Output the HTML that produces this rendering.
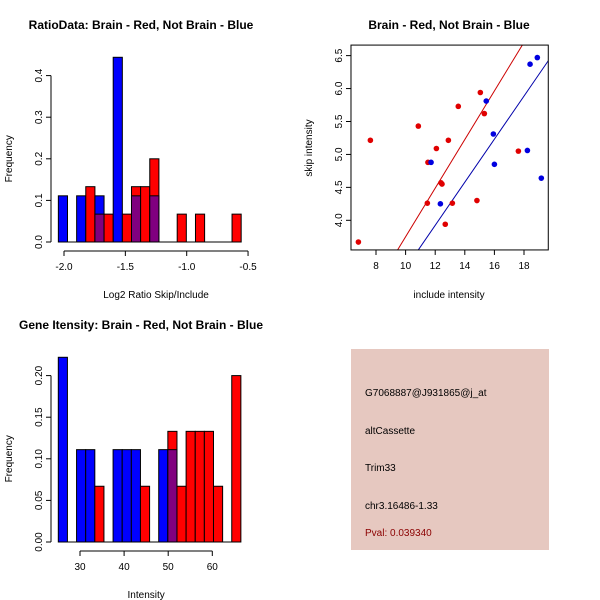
<!DOCTYPE html>
<html><head><meta charset="utf-8"><style>
body{margin:0;background:#fff}
svg{display:block;font-family:"Liberation Sans",Arial,sans-serif}
</style></head><body>
<svg id="s" width="600" height="600">
<rect width="600" height="600" fill="#fff"/>
<text x="141" y="29" font-size="12" font-weight="bold" text-anchor="middle">RatioData: Brain - Red, Not Brain - Blue</text>
<text x="449" y="29" font-size="12" font-weight="bold" text-anchor="middle">Brain - Red, Not Brain - Blue</text>
<text x="141" y="329" font-size="12" font-weight="bold" text-anchor="middle">Gene Itensity: Brain - Red, Not Brain - Blue</text>
<g>
<rect x="351" y="349" width="198" height="201" fill="#e6c8c0"/>
<text x="365" y="396" font-size="10">G7068887@J931865@j_at</text>
<text x="365" y="434" font-size="10">altCassette</text>
<text x="365" y="471" font-size="10">Trim33</text>
<text x="365" y="509" font-size="10">chr3.16486-1.33</text>
<text x="365" y="536" font-size="10" fill="#8b0000">Pval: 0.039340</text>
</g>
</svg>
<script>
// Ratio histogram data
const ratioBlue=[0.111,0,0.111,0,0.111,0,0.444,0,0.111,0,0.111,0,0,0,0,0,0,0,0,0];
const ratioRed=[0,0,0,0.133,0.067,0.067,0,0.067,0.133,0.133,0.2,0,0,0.067,0,0.067,0,0,0,0.067];
const ratioStart=-2.046, ratioBin=0.0745;
const ratioXTicks=[-2.0,-1.5,-1.0,-0.5];
const ratioYTicks=[0.0,0.1,0.2,0.3,0.4];
// Intensity histogram data
const intBlue=[0.222,0,0.111,0.111,0,0,0.111,0.111,0.111,0,0,0.111,0.111,0,0,0,0,0,0,0];
const intRed=[0,0,0,0,0.067,0,0,0,0,0.067,0,0,0.133,0.067,0.133,0.133,0.133,0.067,0,0.2];
const intStart=25.08, intBin=2.07;
const intXTicks=[30,40,50,60];
const intYTicks=[0.00,0.05,0.10,0.15,0.20];
// Scatter data
const redX=[6.81,7.62,10.86,11.51,12.08,12.89,13.56,15.05,15.32,11.47,12.39,12.46,13.16,12.68,14.82,17.62];
const redY=[3.67,5.215,5.43,4.88,5.09,5.215,5.73,5.94,5.62,4.26,4.57,4.55,4.26,3.94,4.30,5.05];
const blueX=[11.72,12.35,15.45,15.93,16.0,18.23,18.41,18.9,19.17];
const blueY=[4.88,4.25,5.81,5.31,4.85,5.06,6.37,6.47,4.64];
const redLine=[0.06,0.369];
const blueLine=[0.0,0.327];
const scXTicks=[8,10,12,14,16,18];
const scYTicks=["4.0","4.5","5.0","5.5","6.0","6.5"];

const S=document.getElementById('s');const NS='http://www.w3.org/2000/svg';
function mk(t,a,txt){const e=document.createElementNS(NS,t);for(const k in a)e.setAttribute(k,a[k]);if(txt!==undefined)e.textContent=txt;S.appendChild(e);return e;}

function hist(blue,red,start,bin,xt,yt,xs,ys,yAxisX,xAxisY,xlab,prefix,fmt){
  for(let i=0;i<blue.length;i++){
    const x0=xs(start+i*bin),x1=xs(start+(i+1)*bin);
    const b=blue[i],r=red[i];const mx=Math.max(b,r),mn=Math.min(b,r);
    if(mx>0){const e=mk('rect',{x:x0,y:ys(mx),width:x1-x0,height:ys(0)-ys(mx),fill:b>=r?'#0000ff':'#ff0000',stroke:'#000','stroke-width':1});
    
    }
    if(mn>0){const e=mk('rect',{x:x0,y:ys(mn),width:x1-x0,height:ys(0)-ys(mn),fill:'#80007f',stroke:'#000','stroke-width':1});
    
    }
  }
  mk('line',{x1:xs(start),x2:xs(start+blue.length*bin),y1:ys(0),y2:ys(0),stroke:'#000'});
  // y axis
  mk('line',{x1:yAxisX,x2:yAxisX,y1:ys(yt[0]),y2:ys(yt[yt.length-1]),stroke:'#000'});
  yt.forEach(v=>{mk('line',{x1:yAxisX-5,x2:yAxisX,y1:ys(v),y2:ys(v),stroke:'#000'});
    const t=mk('text',{x:yAxisX-9,y:ys(v),'font-size':10,'text-anchor':'middle',transform:`rotate(-90 ${yAxisX-9} ${ys(v)})`},fmt(v));
    });
  mk('line',{x1:xs(xt[0]),x2:xs(xt[xt.length-1]),y1:xAxisY,y2:xAxisY,stroke:'#000'});
  xt.forEach(v=>{mk('line',{x1:xs(v),x2:xs(v),y1:xAxisY,y2:xAxisY+5,stroke:'#000'});
    const t=mk('text',{x:xs(v),y:xAxisY+19,'font-size':10,'text-anchor':'middle'},v.toFixed(prefix==='ratio'?1:0));
    });
  const xl=mk('text',{x:(xs(xt[0])+xs(xt[xt.length-1]))/2,y:xAxisY+47,'font-size':10,'text-anchor':'middle'},xlab);
  
  const cy=(ys(yt[0])+ys(yt[yt.length-1]))/2;
  const yl=mk('text',{x:12,y:cy,'font-size':10,'text-anchor':'middle',transform:`rotate(-90 12 ${cy})`},'Frequency');
  
}
hist(ratioBlue,ratioRed,ratioStart,ratioBin,ratioXTicks,ratioYTicks,
  v=>64+(v+2)*122.7, v=>242-v*416, 51,251,'Log2 Ratio Skip/Include','ratio',v=>v.toFixed(1));
hist(intBlue,intRed,intStart,intBin,intXTicks,intYTicks,
  v=>80+(v-30)*4.41, v=>542-v*832, 51,551,'Intensity','intensity',v=>v.toFixed(2));

// scatter
const sx=v=>376+(v-8)*14.8, sy=v=>220.3-(v-4)*65.87;
const X0=6.31,X1=19.64,Y0=3.55,Y1=6.66;
mk('defs',{}).innerHTML='<clipPath id="cp"><rect x="'+sx(X0)+'" y="'+sy(Y1)+'" width="'+(sx(X1)-sx(X0))+'" height="'+(sy(Y0)-sy(Y1))+'"/></clipPath>';
[[redLine,'#cc0000','red-fit-line'],[blueLine,'#0000aa','blue-fit-line']].forEach(([l,c,n])=>{
  const e=mk('line',{x1:sx(X0),y1:sy(l[0]+l[1]*X0),x2:sx(X1),y2:sy(l[0]+l[1]*X1),stroke:c,'clip-path':'url(#cp)'});
  });
redX.forEach((v,i)=>{const e=mk('circle',{cx:sx(v),cy:sy(redY[i]),r:2.8,fill:'#e00000'});
  });
blueX.forEach((v,i)=>{const e=mk('circle',{cx:sx(v),cy:sy(blueY[i]),r:2.8,fill:'#0000e0'});
  });
const box=mk('rect',{x:sx(X0),y:sy(Y1),width:sx(X1)-sx(X0),height:sy(Y0)-sy(Y1),fill:'none',stroke:'#000'});

scXTicks.forEach(v=>{mk('line',{x1:sx(v),x2:sx(v),y1:sy(Y0),y2:sy(Y0)+5,stroke:'#000'});
  const t=mk('text',{x:sx(v),y:sy(Y0)+19,'font-size':10,'text-anchor':'middle'},String(v));
  });
scYTicks.forEach(s=>{const v=parseFloat(s);const x=sx(X0);
  mk('line',{x1:x-5,x2:x,y1:sy(v),y2:sy(v),stroke:'#000'});
  const t=mk('text',{x:x-9,y:sy(v),'font-size':10,'text-anchor':'middle',transform:`rotate(-90 ${x-9} ${sy(v)})`},s);
  });
const sxl=mk('text',{x:449,y:298,'font-size':10,'text-anchor':'middle'},'include intensity');

const syl=mk('text',{x:312,y:148,'font-size':10,'text-anchor':'middle',transform:'rotate(-90 312 148)'},'skip intensity');

</script>
</body></html>
